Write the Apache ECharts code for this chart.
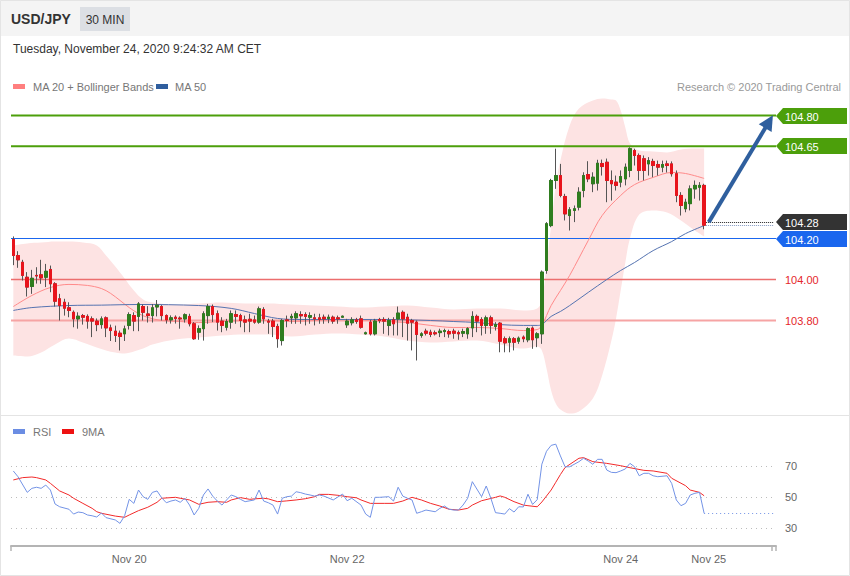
<!DOCTYPE html>
<html>
<head>
<meta charset="utf-8">
<script src="https://cdn.jsdelivr.net/npm/echarts@6/dist/echarts.min.js"></script>
<style>
html,body{margin:0;padding:0;background:#ffffff;}
#chart{width:850px;height:576px;}
</style>
</head>
<body>
<div id="chart"></div>
<script>
// ---------------- data ----------------
const instrument = 'USD/JPY';
const timeframe = '30 MIN';
const timestamp = 'Tuesday, November 24, 2020 9:24:32 AM CET';
const copyrightText = 'Research \u00A9 2020 Trading Central';
const slotCount = 165;                       // 150 candles + empty space on the right
const tickIndex = [25, 72, 131, 150];
const tickText = ['Nov 20', 'Nov 22', 'Nov 24', 'Nov 25'];

const openP = [104.195,104.117,104.084,104.011,103.966,104.02,104.023,104.011,104.049,103.979,
103.906,103.889,103.862,103.84,103.808,103.824,103.82,103.808,103.797,103.78,
103.813,103.764,103.748,103.738,103.735,103.776,103.824,103.82,103.868,103.832,
103.824,103.866,103.868,103.824,103.803,103.816,103.812,103.808,103.820,103.784,
103.743,103.760,103.824,103.868,103.833,103.797,103.767,103.792,103.829,103.824,
103.803,103.806,103.803,103.792,103.854,103.797,103.797,103.771,103.702,103.803,
103.813,103.813,103.829,103.829,103.816,103.813,103.813,103.816,103.810,103.816,
103.813,103.816,103.779,103.789,103.803,103.808,103.735,103.792,103.735,103.805,
103.805,103.776,103.803,103.808,103.840,103.816,103.800,103.792,103.727,103.748,
103.743,103.740,103.741,103.746,103.746,103.748,103.741,103.738,103.735,103.764,
103.820,103.805,103.776,103.813,103.771,103.787,103.711,103.694,103.711,103.699,
103.719,103.706,103.763,103.716,103.735,104.044,104.263,104.483,104.507,104.405,
104.312,104.337,104.353,104.434,104.512,104.467,104.470,104.566,104.572,104.483,
104.475,104.475,104.491,104.532,104.629,104.605,104.589,104.564,104.576,104.561,
104.548,104.564,104.564,104.516,104.410,104.345,104.370,104.442,104.450,104.459];

const closeP = [104.117,104.096,104.02,103.963,104.006,104.017,104.008,104.04,103.979,103.894,
103.873,103.86,103.849,103.808,103.821,103.816,103.797,103.797,103.78,103.808,
103.764,103.751,103.727,103.722,103.759,103.829,103.797,103.881,103.84,103.824,
103.862,103.875,103.824,103.803,103.813,103.81,103.808,103.828,103.784,103.711,
103.760,103.833,103.868,103.829,103.792,103.776,103.795,103.833,103.820,103.800,
103.792,103.797,103.792,103.857,103.808,103.792,103.771,103.711,103.800,103.800,
103.820,103.833,103.823,103.820,103.824,103.808,103.806,103.808,103.816,103.797,
103.808,103.821,103.797,103.803,103.795,103.767,103.740,103.735,103.797,103.800,
103.797,103.800,103.784,103.836,103.808,103.787,103.792,103.732,103.735,103.738,
103.732,103.735,103.748,103.751,103.735,103.738,103.735,103.746,103.760,103.820,
103.797,103.776,103.813,103.776,103.780,103.699,103.691,103.711,103.694,103.714,
103.711,103.760,103.706,103.735,104.036,104.272,104.483,104.507,104.410,104.320,
104.340,104.345,104.426,104.507,104.491,104.499,104.567,104.551,104.483,104.467,
104.459,104.502,104.548,104.638,104.605,104.532,104.532,104.580,104.556,104.548,
104.561,104.556,104.516,104.410,104.361,104.377,104.442,104.459,104.459,104.265];

const lowP = [104.07,104.057,103.995,103.917,103.93,103.98,103.979,103.963,103.938,103.868,
103.80,103.824,103.816,103.767,103.76,103.78,103.76,103.719,103.748,103.76,
103.719,103.70,103.695,103.654,103.70,103.756,103.748,103.748,103.80,103.79,
103.79,103.82,103.80,103.785,103.785,103.785,103.76,103.79,103.771,103.706,
103.706,103.702,103.784,103.792,103.751,103.743,103.751,103.760,103.784,103.767,
103.743,103.743,103.784,103.784,103.784,103.735,103.719,103.667,103.678,103.767,
103.784,103.784,103.784,103.776,103.784,103.776,103.784,103.784,103.787,103.784,
103.784,103.813,103.764,103.776,103.784,103.760,103.732,103.727,103.727,103.787,
103.735,103.727,103.727,103.727,103.719,103.702,103.654,103.605,103.716,103.727,
103.719,103.727,103.719,103.719,103.716,103.711,103.706,103.719,103.711,103.719,
103.743,103.727,103.735,103.735,103.751,103.645,103.645,103.645,103.654,103.686,
103.694,103.694,103.662,103.670,103.686,104.028,104.255,104.442,104.401,104.288,
104.239,104.280,104.337,104.401,104.475,104.426,104.434,104.507,104.377,104.385,
104.434,104.450,104.459,104.499,104.556,104.483,104.483,104.507,104.499,104.507,
104.523,104.522,104.502,104.377,104.312,104.328,104.337,104.394,104.385,104.245];

const highP = [104.21,104.138,104.096,104.036,104.047,104.06,104.096,104.076,104.068,103.987,
103.93,103.906,103.889,103.849,103.84,103.832,103.83,103.82,103.81,103.82,
103.82,103.78,103.775,103.751,103.775,103.84,103.84,103.89,103.878,103.87,
103.88,103.90,103.875,103.83,103.825,103.825,103.82,103.835,103.833,103.792,
103.776,103.845,103.881,103.878,103.849,103.816,103.808,103.849,103.849,103.833,
103.824,103.833,103.824,103.868,103.865,103.808,103.808,103.784,103.808,103.824,
103.833,103.845,103.845,103.840,103.840,103.833,103.833,103.829,103.829,103.824,
103.824,103.824,103.808,103.816,103.813,103.824,103.746,103.803,103.808,103.813,
103.816,103.813,103.816,103.868,103.849,103.833,103.808,103.800,103.743,103.760,
103.755,103.751,103.760,103.760,103.755,103.760,103.751,103.760,103.767,103.845,
103.829,103.816,103.824,103.824,103.792,103.792,103.722,103.722,103.719,103.722,
103.727,103.767,103.771,103.743,104.044,104.280,104.491,104.638,104.564,104.418,
104.353,104.361,104.450,104.523,104.577,104.523,104.584,104.585,104.590,104.532,
104.507,104.532,104.566,104.645,104.638,104.615,104.605,104.597,104.589,104.580,
104.580,104.580,104.576,104.532,104.426,104.394,104.459,104.483,104.475,104.467];

// Bollinger bands (read at the same candle indexes)
const bbUpper = [[0,104.166],[3,104.176],[6,104.180],[9,104.185],[12,104.185],[15,104.180],[18,104.166],[20,104.117],[22,104.063],[24,104.005],[26,103.946],[28,103.902],[30,103.888],[35,103.878],[40,103.883],[45,103.888],[50,103.883],[55,103.883],[60,103.878],[65,103.873],[70,103.868],[75,103.863],[80,103.868],[85,103.873],[90,103.863],[95,103.854],[100,103.859],[105,103.859],[110,103.849],[113,103.859],[114,103.898],[115,104.068],[116,104.263],[117,104.459],[118,104.580],[120,104.751],[122,104.834],[125,104.873],[127,104.883],[129,104.878],[130,104.873],[131,104.824],[132,104.741],[133,104.663],[135,104.629],[138,104.624],[141,104.620],[144,104.634],[147,104.639],[149,104.639]];
const bbLower = [[0,103.629],[3,103.624],[6,103.644],[9,103.683],[12,103.712],[15,103.693],[18,103.668],[20,103.654],[22,103.644],[24,103.639],[26,103.649],[28,103.663],[30,103.683],[35,103.707],[40,103.717],[45,103.727],[50,103.732],[55,103.732],[60,103.722],[65,103.732],[70,103.737],[75,103.732],[80,103.722],[85,103.702],[90,103.693],[95,103.698],[100,103.702],[105,103.683],[110,103.663],[113,103.673],[114,103.654],[115,103.566],[116,103.459],[117,103.395],[118,103.366],[120,103.346],[122,103.356],[125,103.420],[127,103.532],[129,103.702],[130,103.810],[131,103.946],[132,104.083],[133,104.200],[135,104.317],[138,104.337],[141,104.327],[144,104.288],[147,104.239],[149,104.210]];
const ma20 = [[0,103.868],[4,103.922],[8,103.961],[12,103.976],[16,103.971],[19,103.956],[21,103.932],[23,103.898],[25,103.863],[27,103.834],[29,103.815],[32,103.800],[36,103.795],[40,103.790],[45,103.795],[50,103.800],[55,103.800],[60,103.795],[65,103.800],[70,103.805],[74,103.805],[80,103.795],[85,103.790],[90,103.776],[95,103.766],[100,103.766],[105,103.761],[110,103.751],[113,103.756],[114,103.776],[116,103.873],[118,103.946],[120,104.020],[124,104.190],[127,104.312],[131,104.410],[134,104.463],[138,104.498],[142,104.522],[145,104.517],[149,104.493]];
const ma50 = [[0,103.849],[4,103.863],[12,103.873],[19,103.875],[27,103.878],[40,103.873],[47,103.859],[52,103.834],[57,103.810],[62,103.805],[70,103.805],[80,103.805],[90,103.800],[95,103.795],[100,103.790],[105,103.780],[110,103.776],[113,103.776],[114,103.780],[116,103.820],[118,103.844],[120,103.873],[124,103.937],[128,104.000],[131,104.044],[134,104.083],[138,104.141],[142,104.185],[145,104.224],[149,104.263]];

const rsi = [[0,66.8],[1,63.1],[3,53.0],[4,55.6],[5,56.3],[6,55.6],[7,57.7],[8,54.5],[9,45.5],[10,43.7],[12,42.1],[13,39.0],[14,40.3],[15,39.9],[16,38.4],[17,37.9],[18,37.1],[19,39.7],[20,36.7],[22,35.2],[23,33.0],[24,37.9],[25,48.5],[26,45.9],[27,54.5],[28,50.2],[29,48.5],[30,53.0],[31,53.9],[32,49.5],[33,46.3],[34,47.4],[35,48.1],[36,46.6],[37,49.2],[38,44.8],[39,38.4],[40,42.7],[41,51.3],[42,55.2],[43,50.6],[44,47.4],[45,44.8],[46,48.1],[47,51.3],[48,50.2],[49,48.5],[50,47.0],[52,48.1],[53,54.5],[54,47.4],[55,46.3],[56,44.8],[57,39.0],[58,49.2],[59,50.2],[60,50.6],[61,53.4],[62,52.8],[63,51.9],[64,51.3],[65,50.6],[66,51.3],[67,50.6],[69,48.1],[71,51.9],[72,47.6],[73,49.2],[75,44.8],[76,39.0],[77,36.9],[78,49.8],[79,49.8],[81,50.2],[82,47.4],[83,56.3],[84,50.6],[85,49.2],[86,48.1],[87,39.5],[88,40.5],[89,41.6],[91,40.5],[92,42.7],[93,44.2],[94,42.1],[95,41.6],[96,41.6],[97,44.8],[98,49.2],[99,59.9],[101,50.2],[102,57.1],[103,49.2],[104,39.9],[105,39.5],[106,39.0],[107,42.5],[108,40.3],[109,43.7],[110,43.6],[111,51.8],[112,45.2],[113,48.3],[114,71.2],[115,79.5],[116,83.3],[117,84.1],[118,76.5],[119,69.5],[120,69.5],[122,72.8],[123,75.0],[124,73.2],[125,71.1],[126,74.3],[127,74.3],[128,67.4],[129,65.9],[130,65.7],[131,66.8],[132,68.1],[133,71.7],[134,69.5],[135,63.7],[136,65.3],[137,65.3],[138,63.7],[139,63.1],[141,63.7],[142,58.8],[143,48.1],[144,44.4],[145,45.9],[146,51.3],[147,52.4],[148,53.0],[149,39.5]];
const rsiMa = [[0,61.0],[2,62.5],[4,62.9],[5,62.5],[7,61.0],[8,58.8],[10,53.9],[12,51.3],[13,49.2],[15,45.9],[17,42.7],[18,40.5],[19,39.5],[22,37.7],[24,36.9],[25,38.4],[27,41.2],[29,43.4],[31,46.6],[32,49.2],[35,49.8],[36,49.2],[38,48.1],[40,45.3],[42,46.6],[44,47.0],[46,46.6],[47,48.1],[49,49.6],[51,48.5],[52,48.8],[54,49.2],[55,48.8],[57,47.0],[59,47.5],[61,48.1],[63,48.9],[65,50.2],[66,51.7],[68,51.7],[70,51.1],[72,50.2],[74,49.5],[75,48.1],[77,45.9],[80,45.9],[82,45.9],[84,47.4],[86,49.8],[88,48.1],[90,45.9],[92,44.2],[94,42.1],[96,41.6],[98,42.7],[99,44.8],[101,47.6],[104,49.8],[105,50.7],[106,49.8],[108,47.0],[110,44.8],[111,44.4],[113,43.7],[114,46.8],[116,54.5],[117,59.5],[118,64.5],[119,69.0],[122,75.0],[123,75.4],[125,72.8],[128,71.7],[131,70.2],[133,68.9],[136,67.2],[138,66.8],[141,65.3],[142,62.1],[145,57.3],[146,54.5],[148,53.0],[149,50.8]];

const resistanceLevels = [104.80, 104.65];
const pivotLevel = 104.28;
const supportLevels = [104.20, 104.00, 103.80];
const rsiLevels = [70, 50, 30];
const arrowFrom = [150, 104.28];
const arrowTo = [163, 104.77];

// ---------------- styles ----------------
const FONT = 'Arial, "Liberation Sans", Helvetica, sans-serif';
const GREEN_LVL = '#4c9f0b';
const BLUE_LVL = '#1a66ee';
const DARK_TAG = '#333333';
const RED_TXT = '#e5262b';
const UP = '#2f7d1f', DOWN = '#e8141c', WICK = '#555555';
const RSI_C = '#7393e6', RSIMA_C = '#f22a2a';
const LEVEL_STYLE = {};
LEVEL_STYLE[resistanceLevels[0]] = {color: GREEN_LVL, width: 2, label: false};
LEVEL_STYLE[resistanceLevels[1]] = {color: GREEN_LVL, width: 2, label: false};
LEVEL_STYLE[supportLevels[0]] = {color: BLUE_LVL, width: 1, label: false};
LEVEL_STYLE[supportLevels[1]] = {color: '#ec6e6e', width: 1.3, label: true};
LEVEL_STYLE[supportLevels[2]] = {color: '#f6a4a4', width: 2, label: true};

const cats = Array.from({length: slotCount}, (_, i) => 's' + i);
const tickLabel = i => { const k = tickIndex.indexOf(i); return k >= 0 ? tickText[k] : ''; };

const candleFull = openP.map((o, i) => [o, closeP[i], lowP[i], highP[i]]);
const candleBody = openP.map((o, i) => [o, closeP[i], Math.min(o, closeP[i]), Math.max(o, closeP[i])]);
const bandBase = bbLower.map(p => [p[0], p[1]]);
const bandWidth = bbUpper.map((p, i) => [p[0], +(p[1] - bbLower[i][1]).toFixed(4)]);
const lastIdx = openP.length - 1;
const ma50Last = ma50[ma50.length - 1][1];
const rsiLast = rsi[rsi.length - 1][1];

const hdr = [
  {type:'rect', id:'hdrbg', z:-10, silent:true, shape:{x:0,y:0,width:850,height:36}, style:{fill:'#f4f4f4'}},
  {type:'rect', id:'frame', z:-9, silent:true, shape:{x:0.5,y:0.5,width:849,height:575}, style:{fill:'none', stroke:'#e4e4e4', lineWidth:1}},
  {type:'line', id:'sep', silent:true, shape:{x1:0,y1:415.5,x2:850,y2:415.5}, style:{stroke:'#e4e4e4', lineWidth:1}},
  {type:'text', id:'title', style:{text:instrument, x:11, y:19, fontFamily:FONT, fontSize:14, fontWeight:'bold', fill:'#333', verticalAlign:'middle'}},
  {type:'rect', id:'badge', shape:{x:80,y:7,width:50,height:24}, style:{fill:'#dcdfe4'}},
  {type:'text', id:'badgeTxt', style:{text:timeframe, x:105, y:19.5, fontFamily:FONT, fontSize:12, fill:'#333', align:'center', verticalAlign:'middle'}},
  {type:'text', id:'stamp', style:{text:timestamp, x:13, y:48.5, fontFamily:FONT, fontSize:12, fill:'#333', verticalAlign:'middle'}},
  {type:'rect', id:'lg1', shape:{x:13,y:84,width:12,height:5}, style:{fill:'#ff7f7f'}},
  {type:'text', id:'lg1t', style:{text:'MA 20 + Bollinger Bands', x:33, y:86.5, fontFamily:FONT, fontSize:11, fill:'#777', verticalAlign:'middle'}},
  {type:'rect', id:'lg2', shape:{x:156,y:84,width:12,height:5}, style:{fill:'#2f5e9e'}},
  {type:'text', id:'lg2t', style:{text:'MA 50', x:175, y:86.5, fontFamily:FONT, fontSize:11, fill:'#777', verticalAlign:'middle'}},
  {type:'text', id:'copy', style:{text:copyrightText, x:841, y:86.5, fontFamily:FONT, fontSize:11, fill:'#999', align:'right', verticalAlign:'middle'}},
  {type:'rect', id:'lg3', shape:{x:13,y:429,width:12,height:5}, style:{fill:'#6b8de3'}},
  {type:'text', id:'lg3t', style:{text:'RSI', x:33, y:431.5, fontFamily:FONT, fontSize:11, fill:'#777', verticalAlign:'middle'}},
  {type:'rect', id:'lg4', shape:{x:62,y:429,width:12,height:5}, style:{fill:'#ee1111'}},
  {type:'text', id:'lg4t', style:{text:'9MA', x:82, y:431.5, fontFamily:FONT, fontSize:11, fill:'#777', verticalAlign:'middle'}}
];

// one line series per horizontal level, spanning the whole category range
const allLevels = resistanceLevels.concat(supportLevels);
const levelSeries = allLevels.map((v, k) => {
  const st = LEVEL_STYLE[v];
  return {
    name: 'level' + k, type: 'line', xAxisIndex: 0, yAxisIndex: 0,
    data: [[0, v], [slotCount - 1, v]],
    symbol: 'none', silent: true, z: 2, color: st.color,
    lineStyle: {color: st.color, width: st.width, type: 'solid'},
    endLabel: st.label ? {show: true, distance: 9, formatter: v.toFixed(2), color: RED_TXT, fontSize: 11, fontFamily: FONT} : {show: false}
  };
});

const option = {
  animation: false,
  backgroundColor: '#ffffff',
  textStyle: {fontFamily: FONT},
  graphic: hdr,
  grid: [
    {left:11, right:74, top:95, height:319.8, outerBoundsMode:'none'},
    {left:11, right:74, top:435, height:111, outerBoundsMode:'none'}
  ],
  xAxis: [
    {type:'category', gridIndex:0, data:cats, boundaryGap:false, show:false},
    {type:'category', gridIndex:1, data:cats, boundaryGap:true,
     axisLine:{show:true, lineStyle:{color:'#b4b4b4', width:2}},
     axisTick:{show:true, length:5, interval:(i) => i === 0 || i === slotCount - 1, lineStyle:{color:'#b4b4b4', width:1.5}},
     axisLabel:{show:true, interval:(i) => tickIndex.indexOf(i) >= 0, formatter:(v, i) => tickLabel(i), color:'#666', fontSize:11, margin:7, fontFamily:FONT},
     splitLine:{show:false}},
    {type:'category', gridIndex:0, data:cats, boundaryGap:true, show:false}
  ],
  yAxis: [
    {type:'value', gridIndex:0, min:103.34, max:104.90, show:false, splitLine:{show:false}},
    {type:'value', gridIndex:1, min:18.4, max:90, show:false, splitLine:{show:false}}
  ],
  series: [
    {name:'bbBase', type:'line', xAxisIndex:2, yAxisIndex:0, data:bandBase, stack:'bb', smooth:0.35, symbol:'none',
     lineStyle:{opacity:0}, silent:true, z:1},
    {name:'bbBand', type:'line', xAxisIndex:2, yAxisIndex:0, data:bandWidth, stack:'bb', smooth:0.35, symbol:'none',
     lineStyle:{opacity:0}, areaStyle:{color:'#fde3e3', opacity:1}, silent:true, z:1}
  ].concat(levelSeries).concat([
    {name:'MA 20', type:'line', xAxisIndex:2, yAxisIndex:0, data:ma20, smooth:0.35, symbol:'none',
     lineStyle:{color:'#ff8a8a', width:1}, silent:true, z:3},
    {name:'MA 50', type:'line', xAxisIndex:2, yAxisIndex:0, data:ma50, smooth:0.35, symbol:'none',
     lineStyle:{color:'#5573b0', width:1}, silent:true, z:3,
     markLine:{silent:true, symbol:['none','none'], animation:false,
       data:[
         [{coord:[lastIdx, pivotLevel], lineStyle:{color:'#222', width:1, type:'dotted'}, label:{show:false}}, {coord:[slotCount - 1, pivotLevel]}],
         [{coord:[lastIdx, ma50Last], lineStyle:{color:'#8398c2', width:1, type:'dotted'}, label:{show:false}}, {coord:[slotCount - 1, ma50Last]}]
       ]}},
    {name:'wicks', type:'candlestick', xAxisIndex:2, yAxisIndex:0, data:candleFull, barWidth:3, silent:true, z:10,
     itemStyle:{color:UP, color0:DOWN, borderColor:WICK, borderColor0:WICK, borderWidth:1}},
    {name:'bodies', type:'candlestick', xAxisIndex:2, yAxisIndex:0, data:candleBody, barWidth:3, silent:true, z:11,
     itemStyle:{color:UP, color0:DOWN, borderColor:UP, borderColor0:DOWN, borderWidth:1},
     markLine:{silent:true, symbol:['none','none'], animation:false, z:12,
       data:[
         [{coord:arrowFrom, symbol:'none', lineStyle:{color:'#2f5f9e', width:4, type:'solid'}, label:{show:false}},
          {coord:arrowTo, symbol:'triangle', symbolSize:[15,15]}]
       ]}},
    {name:'RSI', type:'line', xAxisIndex:1, yAxisIndex:1, data:rsi, symbol:'none', smooth:false,
     lineStyle:{color:RSI_C, width:1}, silent:true, z:4,
     markLine:{silent:true, symbol:['none','none'], animation:false, z:2,
       data: rsiLevels.map(v => ({yAxis:v, lineStyle:{color:'#bcbcbc', width:1, type:[1,4]},
          label:{show:true, position:'end', distance:9, formatter:String(v), color:'#666', fontSize:11, fontFamily:FONT}}))
          .concat([[{coord:[lastIdx, rsiLast], lineStyle:{color:RSI_C, width:1, type:[1,3]}, label:{show:false}}, {coord:[slotCount - 1, rsiLast]}]])
     }},
    {name:'9MA', type:'line', xAxisIndex:1, yAxisIndex:1, data:rsiMa, symbol:'none', smooth:false,
     lineStyle:{color:RSIMA_C, width:1}, silent:true, z:3}
  ])
};

const chart = echarts.init(document.getElementById('chart'), null, {renderer:'svg', width:850, height:576});
chart.setOption(option);

// value tags on the right, positioned through the price axis scale
const tagDefs = [
  {v: resistanceLevels[0], fill: GREEN_LVL},
  {v: resistanceLevels[1], fill: GREEN_LVL},
  {v: pivotLevel, fill: DARK_TAG},
  {v: supportLevels[0], fill: BLUE_LVL}
];
const tags = [];
tagDefs.forEach((t, i) => {
  const y = Math.round(chart.convertToPixel({yAxisIndex:0}, t.v));
  tags.push({type:'polygon', id:'tag' + i, z:20,
    shape:{points:[[776, y], [783, y - 8], [847, y - 8], [847, y + 8], [783, y + 8]]},
    style:{fill:t.fill}});
  tags.push({type:'text', id:'tagt' + i, z:21,
    style:{text:t.v.toFixed(2), x:785, y:y + 0.5, fontFamily:FONT, fontSize:11, fill:'#ffffff', verticalAlign:'middle'}});
});
chart.setOption({graphic: hdr.concat(tags)});
</script>
</body>
</html>
